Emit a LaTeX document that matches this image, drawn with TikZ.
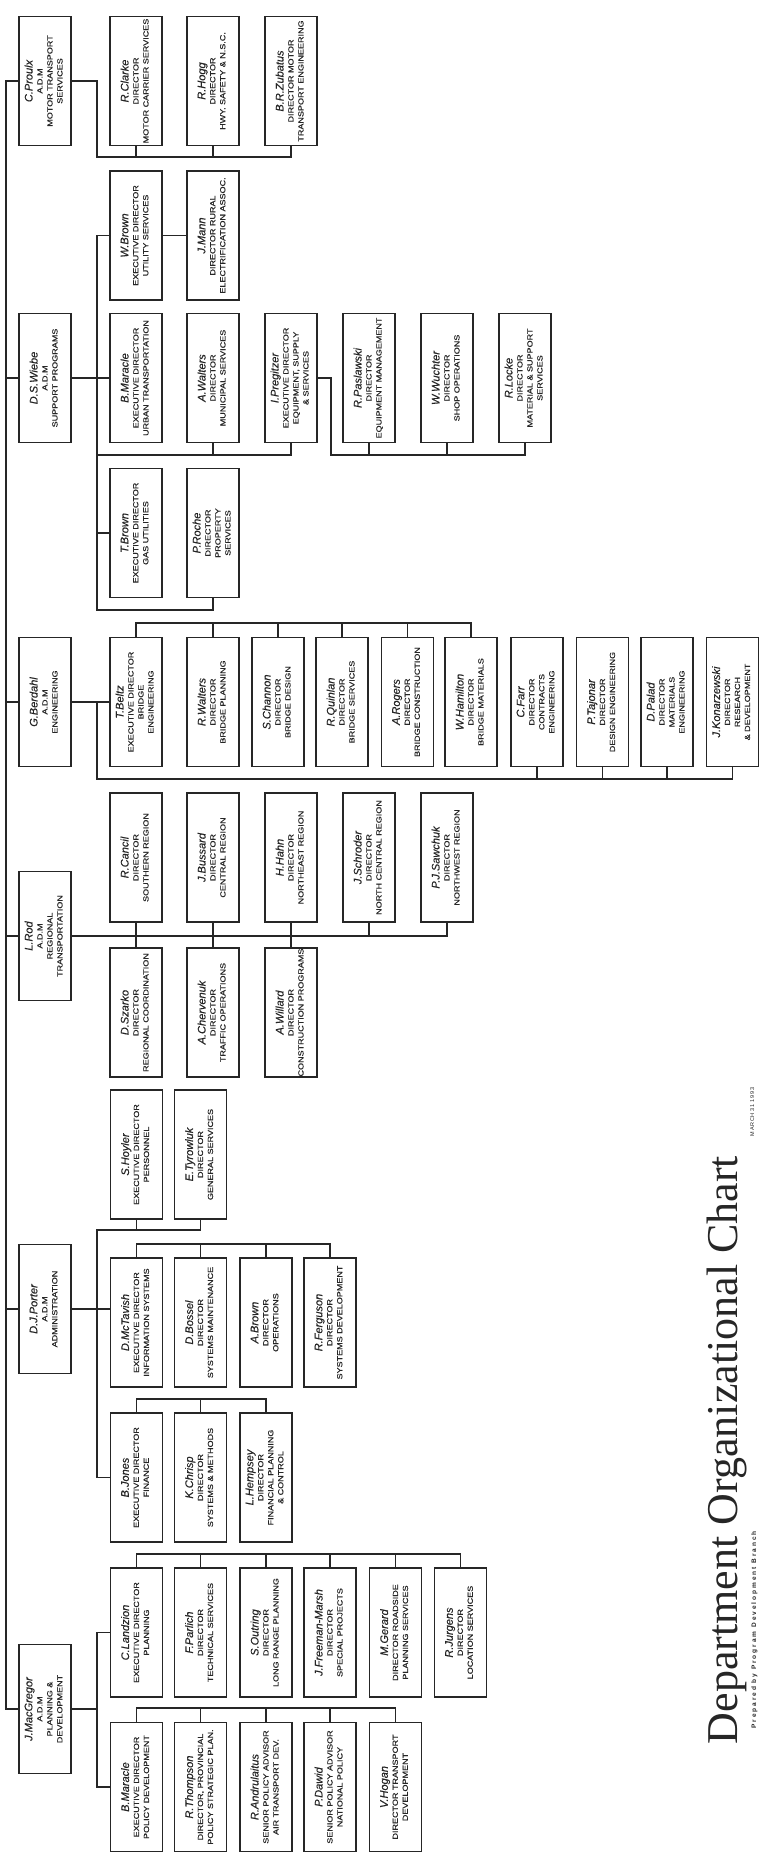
\documentclass[tikz,border=0pt]{standalone}
\usepackage{fontspec}
\usepackage{array}
\usepackage{graphicx}
\setmainfont{Liberation Sans}
\newfontfamily\capsfont[FakeStretch=1.22,FakeBold=0.5]{Liberation Sans}
\newfontfamily\namefont[FakeBold=0.3]{Liberation Sans}
\newfontfamily\titlefont{Liberation Serif}
\newfontfamily\datefont[LetterSpace=12]{Liberation Sans}
\newfontfamily\prepfont[LetterSpace=30]{Liberation Sans}
\definecolor{ink}{HTML}{262626}
\newcommand\nmf{\namefont\itshape\fontsize{11}{11.5}\selectfont}
\newcommand\cpf{\capsfont\fontsize{7.4}{10}\selectfont}
\newcommand\bxt[2]{\rotatebox{90}{\cpf\begin{tabular}{@{}>{\cpf}c@{}}{\nmf #1}\\#2\end{tabular}}}
\begin{document}
\begin{tikzpicture}[x=1pt,y=-1pt,
  box/.style={draw=ink,line width=1.3pt,minimum width=52pt,minimum height=129pt,inner sep=0pt,outer sep=0pt,fill=white,text=ink},
  conn/.style={draw=ink,line width=1.2pt}]
\fill[white] (0,0) rectangle (763,1859);
\useasboundingbox (0,0) rectangle (763,1859);
\coordinate (sx) at (6,0);
\coordinate (vx) at (97,0);
% ---------------- Motor transport
\node[box] (proulx) at (45,81) {\bxt{C.Proulx}{A.D.M\\MOTOR TRANSPORT\\SERVICES}};
\node[box] (clarke) at (136,81) {\bxt{R.Clarke}{DIRECTOR\\MOTOR CARRIER SERVICES}};
\node[box] (hogg) at (213,81) {\bxt{R.Hogg}{DIRECTOR\\HWY. SAFETY \& N.S.C.}};
\node[box] (zub) at (291,81) {\bxt{B.R.Zubatus}{DIRECTOR MOTOR\\TRANSPORT ENGINEERING}};
% ---------------- Support programs
\node[box] (wbrown) at (136,235.5) {\bxt{W.Brown}{EXECUTIVE DIRECTOR\\UTILITY SERVICES}};
\node[box] (mann) at (213,235.5) {\bxt{J.Mann}{DIRECTOR RURAL\\ELECTRIFICATION ASSOC.}};
\node[box] (wiebe) at (45,378) {\bxt{D.S.Wiebe}{A.D.M\\SUPPORT PROGRAMS}};
\node[box] (umar) at (136,378) {\bxt{B.Maracle}{EXECUTIVE DIRECTOR\\URBAN TRANSPORTATION}};
\node[box] (walt) at (213,378) {\bxt{A.Walters}{DIRECTOR\\MUNICIPAL SERVICES}};
\node[box] (preg) at (291,378) {\bxt{I.Pregitzer}{EXECUTIVE DIRECTOR\\EQUIPMENT, SUPPLY\\\& SERVICES}};
\node[box] (pasl) at (369,378) {\bxt{R.Paslawski}{DIRECTOR\\EQUIPMENT MANAGEMENT}};
\node[box] (wuch) at (447,378) {\bxt{W.Wuchter}{DIRECTOR\\SHOP OPERATIONS}};
\node[box] (locke) at (525,378) {\bxt{R.Locke}{DIRECTOR\\MATERIAL \& SUPPORT\\SERVICES}};
\node[box] (tbrown) at (136,533) {\bxt{T.Brown}{EXECUTIVE DIRECTOR\\GAS UTILITIES}};
\node[box] (roche) at (213,533) {\bxt{P.Roche}{DIRECTOR\\PROPERTY\\SERVICES}};
% ---------------- Engineering
\node[box] (berdahl) at (45,702) {\bxt{G.Berdahl}{A.D.M\\ENGINEERING}};
\node[box] (beltz) at (136,702) {\bxt{T.Beltz}{EXECUTIVE DIRECTOR\\BRIDGE\\ENGINEERING}};
\node[box] (rwalt) at (213,702) {\bxt{R.Walters}{DIRECTOR\\BRIDGE PLANNING}};
\node[box] (chan) at (278,702) {\bxt{S.Channon}{DIRECTOR\\BRIDGE DESIGN}};
\node[box] (quin) at (342,702) {\bxt{R.Quinlan}{DIRECTOR\\BRIDGE SERVICES}};
\node[box] (rog) at (407.5,702) {\bxt{A.Rogers}{DIRECTOR\\BRIDGE CONSTRUCTION}};
\node[box] (hamil) at (471,702) {\bxt{W.Hamilton}{DIRECTOR\\BRIDGE MATERIALS}};
\node[box] (farr) at (537,702) {\bxt{C.Farr}{DIRECTOR\\CONTRACTS\\ENGINEERING}};
\node[box] (taj) at (602.5,702) {\bxt{P.Tajonar}{DIRECTOR\\DESIGN ENGINEERING}};
\node[box] (palad) at (667,702) {\bxt{D.Palad}{DIRECTOR\\MATERIALS\\ENGINEERING}};
\node[box] (konar) at (732.5,702) {\bxt{J.Konarzewski}{DIRECTOR\\RESEARCH\\\& DEVELOPMENT}};
% ---------------- Regional transportation
\node[box] (canc) at (136,857.5) {\bxt{R.Cancil}{DIRECTOR\\SOUTHERN REGION}};
\node[box] (buss) at (213,857.5) {\bxt{J.Bussard}{DIRECTOR\\CENTRAL REGION}};
\node[box] (hahn) at (291,857.5) {\bxt{H.Hahn}{DIRECTOR\\NORTHEAST REGION}};
\node[box] (schr) at (369,857.5) {\bxt{J.Schroder}{DIRECTOR\\NORTH CENTRAL REGION}};
\node[box] (saw) at (447,857.5) {\bxt{P.J.Sawchuk}{DIRECTOR\\NORTHWEST REGION}};
\node[box] (rod) at (45,936) {\bxt{L.Rod}{A.D.M\\REGIONAL\\TRANSPORTATION}};
\node[box] (szarko) at (136,1012.5) {\bxt{D.Szarko}{DIRECTOR\\REGIONAL COORDINATION}};
\node[box] (cherv) at (213,1012.5) {\bxt{A.Chervenuk}{DIRECTOR\\TRAFFIC OPERATIONS}};
\node[box] (will) at (291,1012.5) {\bxt{A.Willard}{DIRECTOR\\CONSTRUCTION PROGRAMS}};
% ---------------- Administration
\node[box] (hoyl) at (136.5,1154.5) {\bxt{S.Hoyler}{EXECUTIVE DIRECTOR\\PERSONNEL}};
\node[box] (tyr) at (200.5,1154.5) {\bxt{E.Tyrowluk}{DIRECTOR\\GENERAL SERVICES}};
\node[box] (porter) at (45,1309) {\bxt{D.J.Porter}{A.D.M\\ADMINISTRATION}};
\node[box] (mct) at (136.5,1322.5) {\bxt{D.McTavish}{EXECUTIVE DIRECTOR\\INFORMATION SYSTEMS}};
\node[box] (boss) at (200.5,1322.5) {\bxt{D.Bossel}{DIRECTOR\\SYSTEMS MAINTENANCE}};
\node[box] (abrown) at (266,1322.5) {\bxt{A.Brown}{DIRECTOR\\OPERATIONS}};
\node[box] (ferg) at (330,1322.5) {\bxt{R.Ferguson}{DIRECTOR\\SYSTEMS DEVELOPMENT}};
\node[box] (jones) at (136.5,1477.5) {\bxt{B.Jones}{EXECUTIVE DIRECTOR\\FINANCE}};
\node[box] (chrisp) at (200.5,1477.5) {\bxt{K.Chrisp}{DIRECTOR\\SYSTEMS \& METHODS}};
\node[box] (hemp) at (266,1477.5) {\bxt{L.Hempsey}{DIRECTOR\\FINANCIAL PLANNING\\\& CONTROL}};
% ---------------- Planning & development
\node[box] (land) at (136.5,1632.5) {\bxt{C.Landzion}{EXECUTIVE DIRECTOR\\PLANNING}};
\node[box] (parl) at (200.5,1632.5) {\bxt{F.Parlich}{DIRECTOR\\TECHNICAL SERVICES}};
\node[box] (outr) at (266,1632.5) {\bxt{S.Outring}{DIRECTOR\\LONG RANGE PLANNING}};
\node[box] (free) at (330,1632.5) {\bxt{J.Freeman-Marsh}{DIRECTOR\\SPECIAL PROJECTS}};
\node[box] (gera) at (395.5,1632.5) {\bxt{M.Gerard}{DIRECTOR ROADSIDE\\PLANNING SERVICES}};
\node[box] (jurg) at (460.5,1632.5) {\bxt{R.Jurgens}{DIRECTOR\\LOCATION SERVICES}};
\node[box] (macg) at (45,1709) {\bxt{J.MacGregor}{A.D.M\\PLANNING \&\\DEVELOPMENT}};
\node[box] (pmar) at (136.5,1787) {\bxt{B.Maracle}{EXECUTIVE DIRECTOR\\POLICY DEVELOPMENT}};
\node[box] (thom) at (200.5,1787) {\bxt{R.Thompson}{DIRECTOR, PROVINCIAL\\POLICY STRATEGIC PLAN.}};
\node[box] (andr) at (266,1787) {\bxt{R.Andrulaitus}{SENIOR POLICY ADVISOR\\AIR TRANSPORT DEV.}};
\node[box] (dawid) at (330,1787) {\bxt{P.Dawid}{SENIOR POLICY ADVISOR\\NATIONAL POLICY}};
\node[box] (hogan) at (395.5,1787) {\bxt{V.Hogan}{DIRECTOR TRANSPORT\\DEVELOPMENT}};
% ---------------- texts
\node[rotate=90,anchor=base,inner sep=0pt,text=ink,font=\titlefont\fontsize{44}{44}\selectfont] (title) at (737,1450) {Department Organizational Chart};
\node[rotate=90,anchor=base,inner sep=0pt,text=ink,font=\datefont\fontsize{5.5}{6}\selectfont] (date) at (754,1112) {MARCH 31 1993};
\node[rotate=90,anchor=base,inner sep=0pt,text=ink,font=\prepfont\bfseries\fontsize{6.5}{7}\selectfont] (prep) at (756,1630) {Prepared by Program Development Branch};
% ---------------- spine
\draw[conn] (proulx.west) -- (proulx.west -| sx) -- (macg.west -| sx) -- (macg.west);
\foreach \n in {wiebe,berdahl,rod,porter} \draw[conn] (\n.west) -- (\n.west -| sx);
% motor transport
\coordinate (pbus) at (97,157);
\draw[conn] (proulx.east) -| (pbus) -| (zub.south);
\foreach \n in {clarke,hogg} \draw[conn] (\n.south) -- (\n.south |- pbus);
% support programs
\coordinate (wtop) at (wbrown.west -| vx);
\coordinate (wbot) at (97,610);
\draw[conn] (wbrown.west) -- (wtop) -- (wbot) -| (roche.south);
\draw[conn] (wbrown.east) -- (mann.west);
\draw[conn] (wiebe.east) -- (umar.west);
\coordinate (wmid) at (97,455);
\draw[conn] (wmid) -| (preg.south);
\draw[conn] (walt.south) -- (walt.south |- wmid);
\coordinate (pgb) at (331,455);
\draw[conn] (preg.east) -| (pgb) -| (locke.south);
\foreach \n in {pasl,wuch} \draw[conn] (\n.south) -- (\n.south |- pgb);
\draw[conn] (tbrown.west) -- (tbrown.west -| vx);
% engineering
\coordinate (btop) at (0,623);
\draw[conn] (berdahl.east) -- (beltz.west);
\draw[conn] (beltz.north) -- (beltz.north |- btop) -| (hamil.north);
\foreach \n in {rwalt,chan,quin,rog} \draw[conn] (\n.north) -- (\n.north |- btop);
\coordinate (bbot) at (97,779);
\draw[conn] (berdahl.east -| vx) -- (bbot) -| (konar.south);
\foreach \n in {farr,taj,palad} \draw[conn] (\n.south) -- (\n.south |- bbot);
% regional
\draw[conn] (rod.east) -- (rod.east -| saw.south) -- (saw.south);
\foreach \a/\b in {canc/szarko,buss/cherv,hahn/will} \draw[conn] (\a.south) -- (\b.north);
\draw[conn] (schr.south) -- (schr.south |- rod.east);
% administration
\coordinate (phb) at (97,1230);
\draw[conn] (hoyl.south) -- (hoyl.south |- phb);
\draw[conn] (tyr.south) |- (phb) -- (jones.west -| vx) -- (jones.west);
\draw[conn] (porter.east) -- (porter.east -| mct.west);
\coordinate (itop) at (0,1244);
\draw[conn] (mct.north) -- (mct.north |- itop) -| (ferg.north);
\foreach \n in {boss,abrown} \draw[conn] (\n.north) -- (\n.north |- itop);
\coordinate (jtop) at (0,1399);
\draw[conn] (jones.north) -- (jones.north |- jtop) -| (hemp.north);
\draw[conn] (chrisp.north) -- (chrisp.north |- jtop);
% planning
\draw[conn] (macg.east) -- (macg.east -| vx);
\draw[conn] (land.west) -- (land.west -| vx) -- (pmar.west -| vx) -- (pmar.west);
\coordinate (ktop) at (0,1554);
\draw[conn] (land.north) -- (land.north |- ktop) -| (jurg.north);
\foreach \n in {parl,outr,free,gera} \draw[conn] (\n.north) -- (\n.north |- ktop);
\coordinate (ltop) at (0,1708);
\draw[conn] (pmar.north) -- (pmar.north |- ltop) -| (hogan.north);
\foreach \n in {thom,andr,dawid} \draw[conn] (\n.north) -- (\n.north |- ltop);
\end{tikzpicture}
\end{document}
